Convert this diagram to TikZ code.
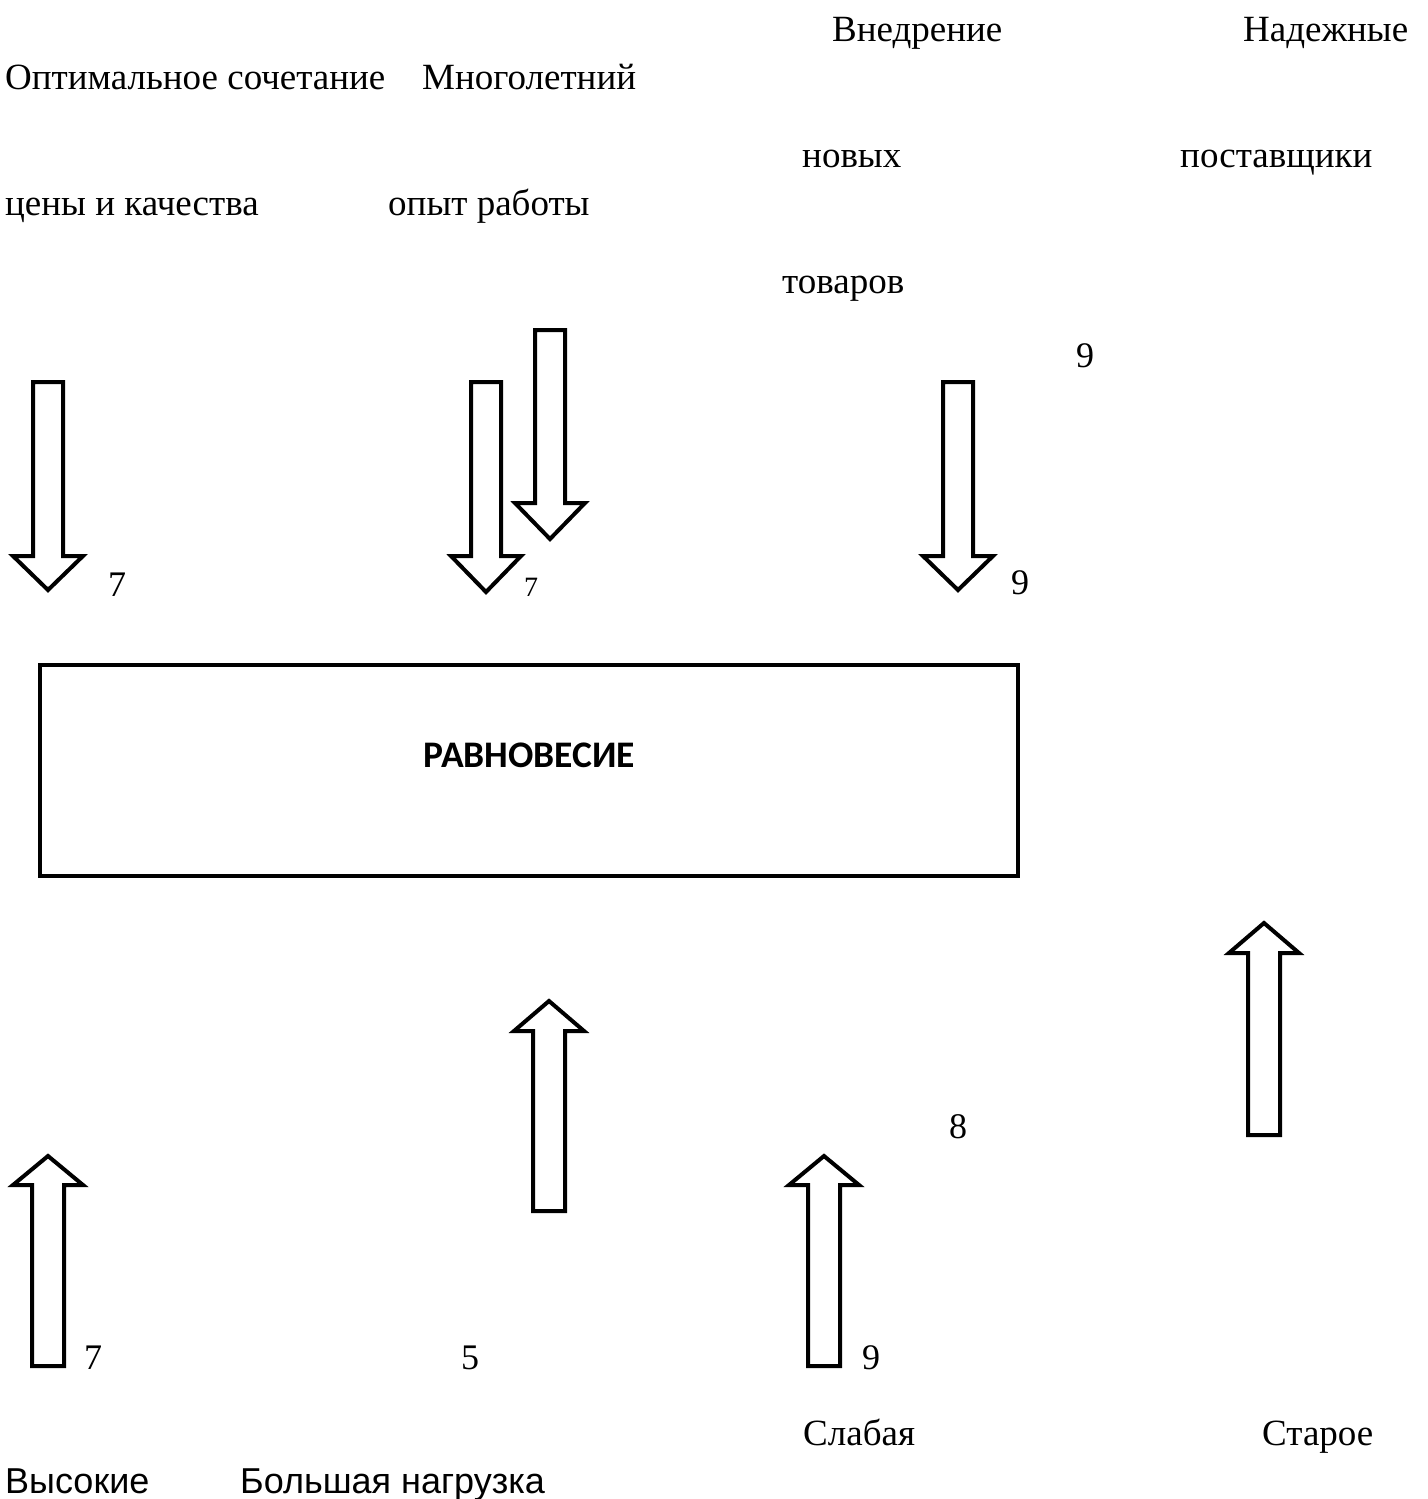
\documentclass[tikz,border=0pt]{standalone}
\usepackage{fontspec}
\setmainfont{Liberation Serif}
\newfontfamily\calib{Carlito}
\newfontfamily\arialf{Liberation Sans}
\tikzset{
  blk/.style={draw=black, line width=4pt, line join=miter, fill=white},
  txt/.style={anchor=base west, inner sep=0pt, font=\fontsize{37}{40}\selectfont},
  stxt/.style={anchor=base west, inner sep=0pt, font=\arialf\fontsize{36}{40}\selectfont},
  num/.style={anchor=base west, inner sep=0pt, font=\fontsize{36}{40}\selectfont},
  smallnum/.style={anchor=base west, inner sep=0pt, font=\fontsize{28}{30}\selectfont},
  eqbox/.style={draw=black, line width=4pt, minimum width=978pt, minimum height=211pt, inner sep=0pt}
}
% down block arrow: cx, shaft top, head base, tip
\newcommand\blkdown[4]{%
  \draw[blk] ({#1-15},#2) -- ({#1+15},#2) -- ({#1+15},#3) -- ({#1+35},#3) -- (#1,#4) -- ({#1-35},#3) -- ({#1-15},#3) -- cycle;}
% up block arrow: cx, tip, head base, shaft bottom
\newcommand\blkup[4]{%
  \draw[blk] (#1,#2) -- ({#1+35},#3) -- ({#1+16},#3) -- ({#1+16},#4) -- ({#1-16},#4) -- ({#1-16},#3) -- ({#1-35},#3) -- cycle;}
\begin{document}
\begin{tikzpicture}[x=1pt,y=-1pt]
\useasboundingbox (0,0) rectangle (1427,1499);

% top texts
\node[txt] (t1) at (832,41) {Внедрение};
\node[txt] (t2) at (1243,41) {Надежные};
\node[txt] (t3) at (5,89) {Оптимальное сочетание};
\node[txt] (t4) at (422,89) {Многолетний};
\node[txt] (t5) at (802,167) {новых};
\node[txt] (t6) at (1180,167) {поставщики};
\node[txt] (t7) at (5,215) {цены и качества};
\node[txt] (t8) at (388,215) {опыт работы};
\node[txt] (t9) at (782,293) {товаров};
\node[num] (n1) at (1076,367) {9};

% down arrows
\blkdown{48}{382}{556}{590}
\blkdown{486}{382}{556}{592}
\blkdown{550}{330}{503}{539}
\blkdown{958}{382}{556}{590}

\node[num] (n2) at (108,596) {7};
\node[smallnum] (n3) at (524,596) {7};
\node[num] (n4) at (1011,594) {9};

% central box
\node[eqbox] (eq) at (529,770.5) {};
\node[inner sep=0pt, font=\calib\bfseries\fontsize{37.5}{40}\selectfont] (eqt) at (529,755) {РАВНОВЕСИЕ};

% up arrows
\blkup{549}{1001}{1031}{1211}
\blkup{1264}{923}{953}{1135}
\blkup{48}{1156}{1185}{1366}
\blkup{824}{1156}{1185}{1366}

\node[num] (n5) at (949,1138) {8};
\node[num] (n6) at (84,1369) {7};
\node[num] (n7) at (461,1369) {5};
\node[num] (n8) at (862,1369) {9};

% bottom texts
\node[txt] (b1) at (803,1445) {Слабая};
\node[txt] (b2) at (1262,1445) {Старое};
\node[stxt] (b3) at (5,1493) {Высокие};
\node[stxt] (b4) at (240,1493) {Большая нагрузка};
\end{tikzpicture}
\end{document}
